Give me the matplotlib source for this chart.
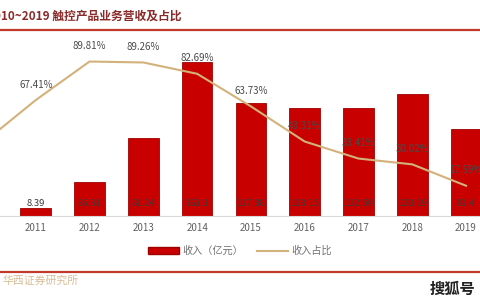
import matplotlib
matplotlib.use("Agg")
import matplotlib.pyplot as plt
import numpy as np
from matplotlib.patches import Patch
from matplotlib.lines import Line2D

plt.rcParams["font.family"] = ["Noto Sans CJK SC", "DejaVu Sans"]

# data
years = ["2010", "2011", "2012", "2013", "2014", "2015", "2016", "2017", "2018", "2019"]
revenue = [np.nan, 8.39, 35.31, 81.24, 161.1, 117.88, 113.15, 112.59, 128.19, 91.4]
revenue_labels = ["", "8.39", "35.31", "81.24", "161.1", "117.88", "113.15", "112.59", "128.19", "91.4"]
share = [42.0, 67.41, 89.81, 89.26, 82.69, 63.73, 43.31, 33.41, 30.02, 17.59]

BAR_RED = "#C80000"
LINE_TAN = "#D2B27A"

fig = plt.figure(figsize=(4.8, 3.0), dpi=100)
ax = fig.add_axes([0.0, 0.28, 1.0, 172 / 300])
ax2 = ax.twinx()

x = np.arange(len(years))
ax.bar(x, revenue, width=0.57, color=BAR_RED, edgecolor="#A00000", linewidth=0.6, zorder=2)
ax2.plot(x, share, color=LINE_TAN, linewidth=1.5, zorder=3)

# bar labels sit near the base
for xi, lab in zip(x, revenue_labels):
    if lab:
        ax.text(xi, 13.5, lab, ha="center", va="center", fontsize=6.8,
                color="#3A3A3A", zorder=4)

# share labels above the line
for xi, v in zip(x[1:], share[1:]):
    ax2.annotate(f"{v:.2f}%", (xi, v), xytext=(0, 11), textcoords="offset points",
                 ha="center", va="center", fontsize=7, color="#4A4A4A",
                 annotation_clip=False)

ax.set_xlim(0.335, 9.26)
ax.set_ylim(0, 180)
ax2.set_ylim(0, 100)
ax.set_xticks(x[1:])
ax.set_xticklabels(years[1:], fontsize=7, color="#606060")
ax.tick_params(axis="x", length=0, pad=5)
ax.set_yticks([])
ax2.set_yticks([])
for a in (ax, ax2):
    for side in ("top", "left", "right", "bottom"):
        a.spines[side].set_visible(False)
ax.spines["bottom"].set_visible(True)
ax.spines["bottom"].set_color("#D9D9D9")
ax.spines["bottom"].set_linewidth(0.8)
ax.set_zorder(ax2.get_zorder() - 1)
ax.patch.set_visible(False)

# legend
handles = [Patch(facecolor=BAR_RED, edgecolor="#A00000"),
           Line2D([0], [0], color=LINE_TAN, linewidth=1.5)]
leg = fig.legend(handles, ["收入（亿元）", "收入占比"], loc="center",
                 bbox_to_anchor=(0.5, 1 - 251 / 300), ncol=2, frameon=False,
                 fontsize=7.3, handlelength=3.0, handleheight=0.7, columnspacing=1.4,
                 handletextpad=0.35)
for t in leg.get_texts():
    t.set_color("#707070")

# title and rules
fig.text(-0.027, 1 - 16 / 300, "2010~2019 触控产品业务营收及占比", fontsize=8.5,
         fontweight="bold", color="#8B2A2A", ha="left", va="center")
fig.add_artist(Line2D([0, 1], [1 - 30 / 300] * 2, color="#C0392B", linewidth=1.6,
                      transform=fig.transFigure))
fig.add_artist(Line2D([0, 1], [1 - 272 / 300] * 2, color="#C0392B", linewidth=1.6,
                      transform=fig.transFigure))
fig.text(0.005, 1 - 281 / 300, "华西证券研究所", fontsize=7.8, color="#D8BC94",
         ha="left", va="center")
fig.text(0.895, 1 - 289 / 300, "搜狐号", fontsize=11, fontweight="bold",
         color="#222222", ha="left", va="center")

fig.savefig("out.png", dpi=100)
